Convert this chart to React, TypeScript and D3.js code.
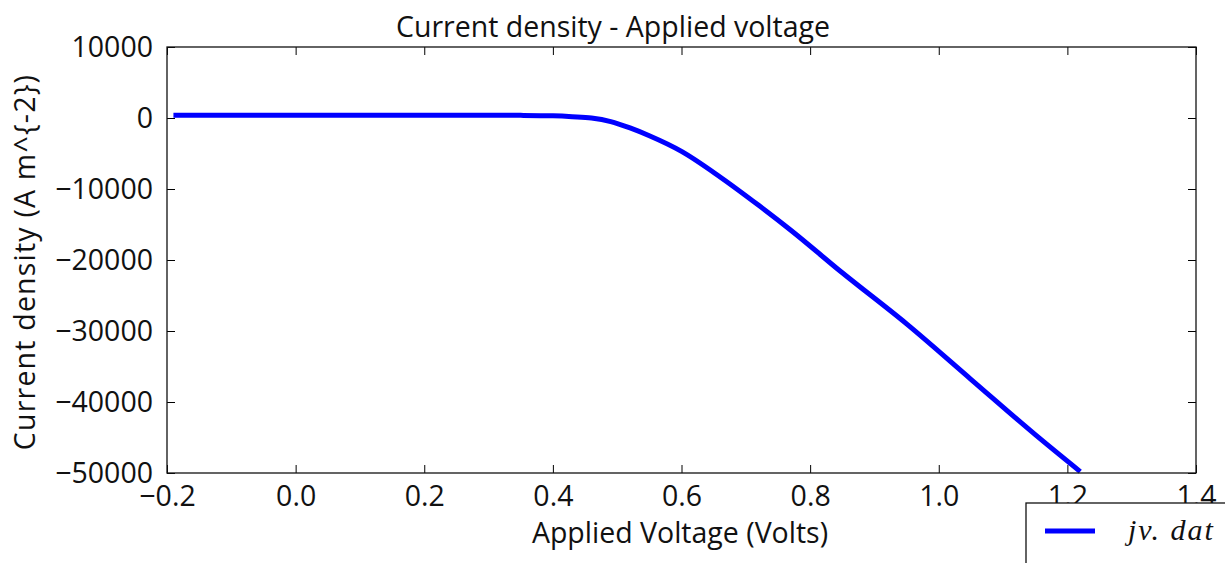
import { useEffect, useRef } from "react";
import * as d3 from "d3";

// applied voltage (V) and current density (A m^-2)
const voltage = [
  -0.19, 0.0, 0.1, 0.2, 0.3, 0.35, 0.4, 0.43, 0.46, 0.49, 0.52, 0.55, 0.6,
  0.66, 0.72, 0.77, 0.85, 0.95, 1.05, 1.15, 1.22,
];
const currentDensity = [
  400, 400, 400, 400, 390, 370, 300, 180, 0, -500, -1400, -2500, -4700,
  -8300, -12300, -15800, -21800, -29000, -36800, -44600, -49800,
];
const xTicks = [-0.2, 0.0, 0.2, 0.4, 0.6, 0.8, 1.0, 1.2, 1.4];
const yTicks = [10000, 0, -10000, -20000, -30000, -40000, -50000];

const W = 1225;
const H = 563;

export default function App() {
  const svgRef = useRef<SVGSVGElement | null>(null);

  useEffect(() => {
    document.body.style.margin = "0";
    if (!svgRef.current) return;
    const margin = { top: 47, right: 29, bottom: 90, left: 167 };
    const innerW = W - margin.left - margin.right;
    const innerH = H - margin.top - margin.bottom;
    const font = "'Open Sans', sans-serif";
    const fs = 28.5;

    const svg = d3.select(svgRef.current);
    svg.selectAll("*").remove();
    const g = svg
      .append("g")
      .attr("transform", `translate(${margin.left},${margin.top})`);

    const x = d3.scaleLinear().domain([-0.2, 1.4]).range([0, innerW]);
    const y = d3.scaleLinear().domain([-50000, 10000]).range([innerH, 0]);

    const fmtX = (v: number) => d3.format(".1f")(v).replace("-", "\u2212");
    const fmtY = (v: number) => String(v).replace("-", "\u2212");

    // ticks pointing inward on all four sides (classic matplotlib)
    const styleAxis = (sel: any) => {
      sel.select(".domain").remove();
      sel.selectAll("line").attr("stroke", "#000").attr("stroke-width", 1);
      sel
        .selectAll("text")
        .attr("font-family", font)
        .attr("font-size", fs)
        .attr("fill", "#111");
    };

    const bottomAxis = g
      .append("g")
      .attr("transform", `translate(0,${innerH})`)
      .call(
        d3.axisBottom(x).tickValues(xTicks).tickSize(-8).tickPadding(16)
          .tickFormat((v: any) => fmtX(+v))
      )
      .call(styleAxis);
    bottomAxis.selectAll("text").attr("dy", null).attr("y", 33);

    g.append("g")
      .call(d3.axisTop(x).tickValues(xTicks).tickSize(-8).tickFormat(() => ""))
      .call(styleAxis);
    g.append("g")
      .call(
        d3.axisLeft(y).tickValues(yTicks).tickSize(-8).tickPadding(14)
          .tickFormat((v: any) => fmtY(+v))
      )
      .call(styleAxis)
      .selectAll("text")
      .attr("x", -14)
      .attr("dy", "0.34em");
    g.append("g")
      .attr("transform", `translate(${innerW},0)`)
      .call(d3.axisRight(y).tickValues(yTicks).tickSize(-8).tickFormat(() => ""))
      .call(styleAxis);

    const pts = voltage.map((v, i) => [v, currentDensity[i]] as [number, number]);
    const line = d3
      .line<[number, number]>()
      .x((d) => x(d[0]))
      .y((d) => y(d[1]))
      .curve(d3.curveMonotoneX);

    g.append("path")
      .datum(pts)
      .attr("d", line)
      .attr("fill", "none")
      .attr("stroke", "#0000ff")
      .attr("stroke-width", 5);

    // frame
    g.append("rect")
      .attr("width", innerW)
      .attr("height", innerH)
      .attr("fill", "none")
      .attr("stroke", "#111")
      .attr("stroke-width", 1.3);

    svg
      .append("text")
      .attr("x", 613)
      .attr("y", 37)
      .attr("text-anchor", "middle")
      .attr("font-family", font)
      .attr("font-size", fs)
      .attr("fill", "#111")
      .text("Current density - Applied voltage");

    svg
      .append("text")
      .attr("x", 680)
      .attr("y", 543)
      .attr("text-anchor", "middle")
      .attr("font-family", font)
      .attr("font-size", fs)
      .attr("fill", "#111")
      .text("Applied Voltage (Volts)");

    svg
      .append("text")
      .attr("transform", `translate(35,262) rotate(-90)`)
      .attr("text-anchor", "middle")
      .attr("font-family", font)
      .attr("font-size", fs)
      .attr("letter-spacing", 1.2)
      .attr("fill", "#111")
      .text("Current density (A m^{-2})");

    // legend, spilling off the bottom-right corner
    const lg = svg.append("g").attr("transform", "translate(1026,503)");
    lg.append("rect")
      .attr("width", 230)
      .attr("height", 100)
      .attr("fill", "#fff")
      .attr("stroke", "#111")
      .attr("stroke-width", 1.3);
    lg.append("line")
      .attr("x1", 19)
      .attr("x2", 69)
      .attr("y1", 28)
      .attr("y2", 28)
      .attr("stroke", "#0000ff")
      .attr("stroke-width", 5);
    lg.append("text")
      .attr("x", 102)
      .attr("y", 37)
      .attr("font-family", "'Liberation Serif', serif")
      .attr("font-style", "italic")
      .attr("font-size", 30)
      .attr("letter-spacing", 2)
      .attr("fill", "#111")
      .text("jv. dat");
  }, []);

  return <svg ref={svgRef} width={W} height={H} style={{ display: "block", background: "#fff" }} />;
}
